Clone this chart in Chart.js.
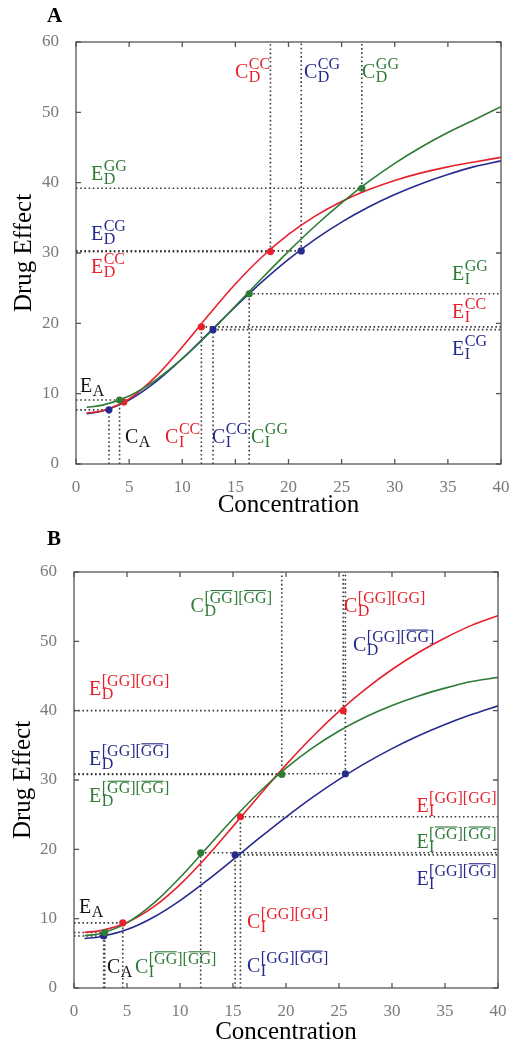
<!DOCTYPE html>
<html>
<head>
<meta charset="utf-8">
<script src="https://cdn.jsdelivr.net/npm/chart.js@4.4.0/dist/chart.umd.min.js"></script>
<style>
  html, body { margin: 0; padding: 0; background: #fff; }
  #boxA { position: absolute; left: 0; top: 0; }
  #boxB { position: absolute; left: 0; top: 520px; }
  .panel { position: absolute; font: bold 21px "Liberation Serif"; }
</style>
</head>
<body>
<div id="boxA"><canvas id="chartA" width="522" height="520"></canvas></div>
<div id="boxB"><canvas id="chartB" width="522" height="530"></canvas></div>
<div class="panel" style="left:47px;top:3px;">A</div>
<div class="panel" style="left:47px;top:526px;">B</div>
<script>
var conc = [1, 2.5, 5, 7.5, 10, 12.5, 15, 17.5, 20, 22.5, 25, 27.5, 30, 32.5, 35, 37.5, 40];

// panel A curves
var effA_CC = [7.24, 7.58, 9.27, 12.43, 16.64, 21.22, 25.59, 29.43, 32.64, 35.24, 37.33, 38.99, 40.32, 41.39, 42.25, 42.95, 43.6];
var effA_CG = [7.16, 7.55, 9.09, 11.66, 14.96, 18.64, 22.36, 25.89, 29.1, 31.93, 34.39, 36.5, 38.31, 39.85, 41.16, 42.28, 43.1];
var effA_GG = [8.05, 8.37, 9.68, 11.93, 14.97, 18.56, 22.46, 26.41, 30.24, 33.84, 37.13, 40.1, 42.75, 45.08, 47.14, 48.95, 50.8];

// panel A marked points: [A, I, D]
var ptA_CC_c = [4.5, 11.8, 18.3],  ptA_CC_e = [8.8, 19.5, 30.2];
var ptA_CG_c = [3.1, 12.9, 21.2],  ptA_CG_e = [7.7, 19.1, 30.3];
var ptA_GG_c = [4.1, 16.3, 26.9],  ptA_GG_e = [9.1, 24.2, 39.2];

// panel B curves
var effB_GGGG = [8.03, 8.28, 9.45, 11.69, 14.92, 18.9, 23.31, 27.81, 32.18, 36.23, 39.89, 43.12, 45.94, 48.39, 50.49, 52.3, 53.7];
var effB_GGbar = [7.14, 7.4, 8.42, 10.2, 12.6, 15.44, 18.51, 21.64, 24.66, 27.5, 30.1, 32.44, 34.53, 36.38, 38.0, 39.43, 40.7];
var effB_barbar = [7.54, 7.87, 9.4, 12.19, 15.93, 20.15, 24.37, 28.27, 31.7, 34.62, 37.06, 39.08, 40.74, 42.12, 43.25, 44.2, 44.8];

// panel B marked points: [A, I, D]
var ptB_GGGG_c = [4.6, 15.7, 25.4],   ptB_GGGG_e = [9.4, 24.7, 40.0];
var ptB_GGbar_c = [2.8, 15.2, 25.6],  ptB_GGbar_e = [7.5, 19.2, 30.9];
var ptB_barbar_c = [2.9, 11.95, 19.6], ptB_barbar_e = [8.0, 19.5, 30.8];

var xTicks = [0, 5, 10, 15, 20, 25, 30, 35, 40];
var yTicks = [0, 10, 20, 30, 40, 50, 60];

var RED = '#e8202c', BLUE = '#262a8c', GREEN = '#2e7b36', BLACK = '#111';
var SERIF = '"Liberation Serif", "Times New Roman", serif';

function curve(ys, color) {
  return {
    data: conc.map(function(c, i) { return {x: c, y: ys[i]}; }),
    showLine: true, borderColor: color, borderWidth: 1.6, pointRadius: 0,
    cubicInterpolationMode: 'monotone'
  };
}

function marks(cs, es, color) {
  return {
    data: cs.map(function(c, i) { return {x: c, y: es[i]}; }),
    showLine: false, pointRadius: 3.6, pointBackgroundColor: color,
    pointBorderColor: color, pointBorderWidth: 0
  };
}

// d = down to x axis, u = up to top, l = left to y axis, r = right to edge
function guides(cs, es, dirs) {
  var out = [];
  cs.forEach(function(c, i) {
    var e = es[i];
    dirs[i].split('').forEach(function(d) {
      var pts;
      if (d === 'd') pts = [{x: c, y: 0}, {x: c, y: e}];
      if (d === 'u') pts = [{x: c, y: e}, {x: c, y: 60}];
      if (d === 'l') pts = [{x: 0, y: e}, {x: c, y: e}];
      if (d === 'r') pts = [{x: c, y: e}, {x: 40, y: e}];
      out.push({data: pts, showLine: true, borderColor: '#3a3a3a', borderWidth: 1.6,
        borderDash: [1.6, 2.6], pointRadius: 0});
    });
  });
  return out;
}

// math-ish label: base letter with stacked sup/sub, '|' toggles overline in sup
function drawMath(ctx, x, y, l) {
  ctx.fillStyle = l.c;
  ctx.textAlign = 'left';
  ctx.textBaseline = 'alphabetic';
  ctx.font = '20px ' + SERIF;
  ctx.fillText(l.t, x, y);
  var sx = x + ctx.measureText(l.t).width + 0.5;
  ctx.font = '16px ' + SERIF;
  if (l.sub) ctx.fillText(l.sub, sx, y + 4);
  if (l.sup) {
    var parts = l.sup.split('|');
    var cx = sx;
    parts.forEach(function(p, i) {
      ctx.fillText(p, cx, y - 9);
      var w = ctx.measureText(p).width;
      if (i % 2 === 1) ctx.fillRect(cx + 0.5, y - 9 - 12.5, w - 1, 1.1);
      cx += w;
    });
  }
}

var framePlugin = {
  id: 'frame',
  afterDatasetsDraw: function(chart) {
    var ctx = chart.ctx, a = chart.chartArea;
    var sx = chart.scales.x, sy = chart.scales.y;
    ctx.save();
    ctx.strokeStyle = '#555';
    ctx.lineWidth = 1.3;
    ctx.strokeRect(a.left, a.top, a.right - a.left, a.bottom - a.top);
    ctx.beginPath();
    xTicks.forEach(function(v) {
      var p = sx.getPixelForValue(v);
      ctx.moveTo(p, a.bottom); ctx.lineTo(p, a.bottom - 5);
      ctx.moveTo(p, a.top); ctx.lineTo(p, a.top + 5);
    });
    yTicks.forEach(function(v) {
      var p = sy.getPixelForValue(v);
      ctx.moveTo(a.left, p); ctx.lineTo(a.left + 5, p);
      ctx.moveTo(a.right, p); ctx.lineTo(a.right - 5, p);
    });
    ctx.stroke();
    ctx.restore();
  }
};

var labelPlugin = {
  id: 'mathLabels',
  afterDraw: function(chart) {
    var ctx = chart.ctx;
    var sx = chart.scales.x, sy = chart.scales.y;
    ctx.save();
    chart.options.plugins.mathLabels.items.forEach(function(l) {
      drawMath(ctx, sx.getPixelForValue(l.x), sy.getPixelForValue(l.y), l);
    });
    ctx.restore();
  }
};

function makePanel(id, datasets, labels, geo) {
  return new Chart(document.getElementById(id), {
    type: 'scatter',
    data: { datasets: datasets },
    options: {
      responsive: false,
      animation: false,
      layout: { padding: { left: 0, right: geo.right, top: geo.top, bottom: 0 } },
      plugins: {
        legend: { display: false },
        tooltip: { enabled: false },
        mathLabels: { items: labels }
      },
      scales: {
        x: {
          type: 'linear', min: 0, max: 40,
          afterFit: function(s) { s.height = geo.xh; },
          afterBuildTicks: function(s) { s.ticks = xTicks.map(function(v) { return {value: v}; }); },
          grid: { display: false }, border: { display: false },
          ticks: { color: '#7a7a7a', font: { family: SERIF, size: 17 }, padding: 5, maxRotation: 0 },
          title: { display: true, text: 'Concentration', color: '#000',
            font: { family: SERIF, size: 25 }, padding: { top: 0, bottom: geo.xtp } }
        },
        y: {
          type: 'linear', min: 0, max: 60,
          afterFit: function(s) { s.width = geo.yw; },
          afterBuildTicks: function(s) { s.ticks = yTicks.map(function(v) { return {value: v}; }); },
          grid: { display: false }, border: { display: false },
          ticks: { color: '#7a7a7a', font: { family: SERIF, size: 17 }, padding: 9 },
          title: { display: true, text: 'Drug Effect', color: '#000',
            font: { family: SERIF, size: 25 }, padding: { top: geo.ytp, bottom: 0 } }
        }
      }
    },
    plugins: [framePlugin, labelPlugin]
  });
}

var labelsA = [
  {t: 'C', sup: 'CC', sub: 'D', c: RED, x: 14.96, y: 54.9},
  {t: 'C', sup: 'CG', sub: 'D', c: BLUE, x: 21.46, y: 54.9},
  {t: 'C', sup: 'GG', sub: 'D', c: GREEN, x: 26.92, y: 54.9},
  {t: 'E', sup: 'GG', sub: 'D', c: GREEN, x: 1.41, y: 40.4},
  {t: 'E', sup: 'CG', sub: 'D', c: BLUE, x: 1.41, y: 31.85},
  {t: 'E', sup: 'CC', sub: 'D', c: RED, x: 1.41, y: 27.2},
  {t: 'E', sup: 'GG', sub: 'I', c: GREEN, x: 35.39, y: 26.2},
  {t: 'E', sup: 'CC', sub: 'I', c: RED, x: 35.39, y: 20.8},
  {t: 'E', sup: 'CG', sub: 'I', c: BLUE, x: 35.39, y: 15.5},
  {t: 'E', sup: '', sub: 'A', c: BLACK, x: 0.38, y: 10.2},
  {t: 'C', sup: '', sub: 'A', c: BLACK, x: 4.61, y: 3.0},
  {t: 'C', sup: 'CC', sub: 'I', c: RED, x: 8.38, y: 3.0},
  {t: 'C', sup: 'CG', sub: 'I', c: BLUE, x: 12.8, y: 3.0},
  {t: 'C', sup: 'GG', sub: 'I', c: GREEN, x: 16.47, y: 3.0}
];

var labelsB = [
  {t: 'C', sup: '[GG][GG]', sub: 'D', c: RED, x: 25.47, y: 54.3},
  {t: 'C', sup: '[GG][|GG|]', sub: 'D', c: BLUE, x: 26.32, y: 48.6},
  {t: 'C', sup: '[|GG|][|GG|]', sub: 'D', c: GREEN, x: 11.0, y: 54.3},
  {t: 'E', sup: '[GG][GG]', sub: 'D', c: RED, x: 1.42, y: 42.3},
  {t: 'E', sup: '[GG][|GG|]', sub: 'D', c: BLUE, x: 1.42, y: 32.2},
  {t: 'E', sup: '[|GG|][|GG|]', sub: 'D', c: GREEN, x: 1.42, y: 26.8},
  {t: 'E', sup: '[GG][GG]', sub: 'I', c: RED, x: 32.3, y: 25.4},
  {t: 'E', sup: '[|GG|][|GG|]', sub: 'I', c: GREEN, x: 32.3, y: 20.2},
  {t: 'E', sup: '[GG][|GG|]', sub: 'I', c: BLUE, x: 32.3, y: 14.9},
  {t: 'E', sup: '', sub: 'A', c: BLACK, x: 0.47, y: 10.8},
  {t: 'C', sup: '', sub: 'A', c: BLACK, x: 3.11, y: 2.2},
  {t: 'C', sup: '[|GG|][|GG|]', sub: 'I', c: GREEN, x: 5.75, y: 2.2},
  {t: 'C', sup: '[GG][GG]', sub: 'I', c: RED, x: 16.32, y: 8.65},
  {t: 'C', sup: '[GG][|GG|]', sub: 'I', c: BLUE, x: 16.32, y: 2.3}
];

var dsA = [].concat(
  [marks(ptA_GG_c, ptA_GG_e, GREEN), marks(ptA_CC_c, ptA_CC_e, RED), marks(ptA_CG_c, ptA_CG_e, BLUE)],
  [curve(effA_GG, GREEN), curve(effA_CC, RED), curve(effA_CG, BLUE)],
  guides(ptA_CC_c, ptA_CC_e, ['', 'dr', 'ul']),
  guides(ptA_CG_c, ptA_CG_e, ['dl', 'dr', 'ul']),
  guides(ptA_GG_c, ptA_GG_e, ['dl', 'dr', 'ul'])
);

var dsB = [].concat(
  [marks(ptB_barbar_c, ptB_barbar_e, GREEN), marks(ptB_GGGG_c, ptB_GGGG_e, RED), marks(ptB_GGbar_c, ptB_GGbar_e, BLUE)],
  [curve(effB_barbar, GREEN), curve(effB_GGGG, RED), curve(effB_GGbar, BLUE)],
  guides(ptB_GGGG_c, ptB_GGGG_e, ['dl', 'dr', 'ul']),
  guides(ptB_GGbar_c, ptB_GGbar_e, ['dl', 'dr', 'ul']),
  guides(ptB_barbar_c, ptB_barbar_e, ['dl', 'dr', 'ul'])
);

makePanel('chartA', dsA, labelsA, {right: 21, top: 42, xh: 56, yw: 76, xtp: 0, ytp: 9});
makePanel('chartB', dsB, labelsB, {right: 24, top: 52, xh: 62, yw: 74, xtp: 3, ytp: 8});
</script>
</body>
</html>
